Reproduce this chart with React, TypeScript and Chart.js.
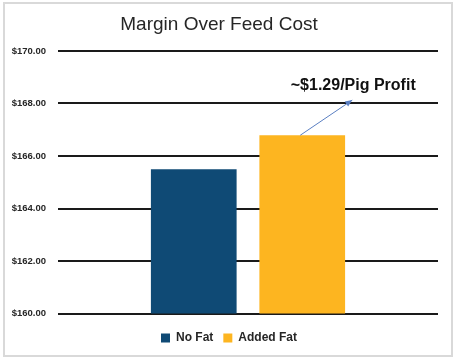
import React, { useEffect, useRef } from "react";
import { Chart, registerables } from "chart.js";

Chart.register(...registerables);

const categories = [""];
const seriesNames = ["No Fat", "Added Fat"];
const noFat = [165.5];
const addedFat = [166.79];
const seriesColors = ["#0f4a75", "#fdb520"];
const yMin = 160;
const yMax = 170;
const yStep = 2;
const titleText = "Margin Over Feed Cost";
const annotationText = "~$1.29/Pig Profit";
const arrowTipValue = 168.13;
const annotationTextValue = 168.68;

const FONT = "'Liberation Sans', Arial, sans-serif";

const legendShiftPlugin = {
  id: "legendShift",
  afterLayout(chart: any) {
    if (chart.legend) {
      chart.legend.left += 10;
      chart.legend.right += 10;
    }
  },
};

const annotationPlugin = {
  id: "profitAnnotation",
  afterDatasetsDraw(chart: any) {
    const meta = chart.getDatasetMeta(1);
    const bar = meta && meta.data && meta.data[0];
    if (!bar) return;
    const yScale = chart.scales.y;
    const ctx = chart.ctx;
    const x0 = bar.x - 2;
    const y0 = bar.y;
    const x1 = bar.x + 50;
    const y1 = yScale.getPixelForValue(arrowTipValue);
    ctx.save();
    ctx.strokeStyle = "#5a7fc2";
    ctx.fillStyle = "#5a7fc2";
    ctx.lineWidth = 1;
    ctx.beginPath();
    ctx.moveTo(x0, y0);
    ctx.lineTo(x1, y1);
    ctx.stroke();
    const ang = Math.atan2(y1 - y0, x1 - x0);
    const len = 7;
    const half = 3;
    ctx.beginPath();
    ctx.moveTo(x1, y1);
    ctx.lineTo(
      x1 - len * Math.cos(ang) + half * Math.sin(ang),
      y1 - len * Math.sin(ang) - half * Math.cos(ang)
    );
    ctx.lineTo(
      x1 - len * Math.cos(ang) - half * Math.sin(ang),
      y1 - len * Math.sin(ang) + half * Math.cos(ang)
    );
    ctx.closePath();
    ctx.fill();
    ctx.fillStyle = "#111111";
    ctx.font = `bold 16px ${FONT}`;
    ctx.textAlign = "center";
    ctx.textBaseline = "middle";
    ctx.fillText(annotationText, bar.x + 51, yScale.getPixelForValue(annotationTextValue));
    ctx.restore();
  },
};

export default function App() {
  const canvasRef = useRef<HTMLCanvasElement | null>(null);

  useEffect(() => {
    document.body.style.margin = "0";
    const canvas = canvasRef.current;
    if (!canvas) return;
    Chart.defaults.font.family = FONT;
    const chart = new Chart(canvas, {
      type: "bar",
      data: {
        labels: categories,
        datasets: [
          {
            label: seriesNames[0],
            data: noFat,
            backgroundColor: seriesColors[0],
            borderWidth: 0,
            categoryPercentage: 0.571,
            barPercentage: 0.79,
          },
          {
            label: seriesNames[1],
            data: addedFat,
            backgroundColor: seriesColors[1],
            borderWidth: 0,
            categoryPercentage: 0.571,
            barPercentage: 0.79,
          },
        ],
      },
      options: {
        animation: false,
        responsive: false,
        maintainAspectRatio: false,
        layout: { padding: { left: 0, right: 18, top: 0, bottom: 7 } },
        plugins: {
          title: {
            display: true,
            text: titleText,
            color: "#262626",
            font: { size: 19, weight: "normal", family: FONT },
            padding: { top: 13, bottom: 15.2 },
          },
          legend: {
            display: true,
            position: "bottom",
            labels: {
              boxWidth: 9,
              boxHeight: 9,
              color: "#262626",
              padding: 10,
              font: { size: 12, weight: "bold", family: FONT },
            },
          },
          tooltip: { enabled: false },
        },
        scales: {
          x: {
            display: true,
            grid: { display: false },
            border: { display: false },
            ticks: { display: false },
            afterFit: (scale: any) => {
              scale.height = 8.5;
            },
          },
          y: {
            min: yMin,
            max: yMax,
            border: { display: false },
            grid: { color: "#1a1a1a", lineWidth: 2, drawTicks: false },
            ticks: {
              stepSize: yStep,
              padding: 12,
              color: "#262626",
              font: { size: 9.5, weight: "bold", family: FONT },
              callback: (v: any) => "$" + Number(v).toFixed(2),
            },
            afterFit: (scale: any) => {
              scale.width = 58;
            },
          },
        },
      },
      plugins: [legendShiftPlugin, annotationPlugin],
    });
    return () => chart.destroy();
  }, []);

  return (
    <div style={{ position: "relative", width: 456, height: 361, background: "#ffffff" }}>
      <canvas ref={canvasRef} width={456} height={361} style={{ display: "block" }} />
      <div
        style={{
          position: "absolute",
          left: 3,
          top: 2,
          width: 446,
          height: 351,
          border: "2px solid #d9d9d9",
          pointerEvents: "none",
        }}
      />
    </div>
  );
}
